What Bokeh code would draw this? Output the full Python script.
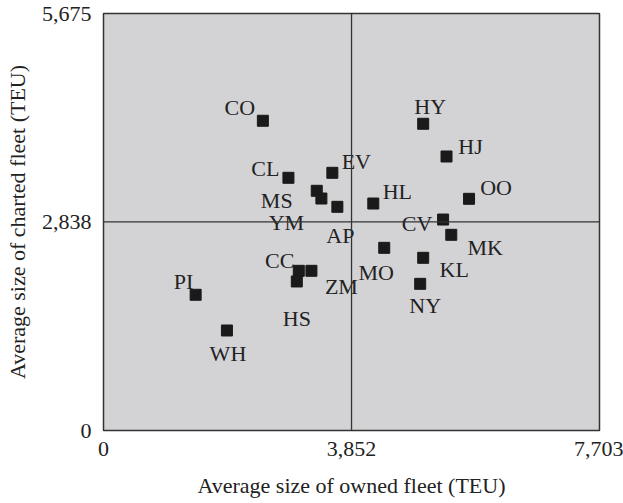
from bokeh.plotting import figure
from bokeh.models import Range1d, FixedTicker, NumeralTickFormatter, Span, ColumnDataSource
from bokeh.core.properties import value
from bokeh.embed import file_html
from bokeh.resources import INLINE

# ---- data ----
labels = ["CO", "CL", "MS", "YM", "EV", "AP", "HL", "HY", "HJ", "OO",
          "CV", "MK", "MO", "KL", "NY", "CC", "ZM", "HS", "PI", "WH"]
owned = [2475, 2872, 3312, 3384, 3554, 3632, 4190, 4965, 5327, 5677,
         5274, 5401, 4360, 4965, 4918, 3033, 3229, 3002, 1431, 1917]
charted = [4215, 3439, 3262, 3157, 3507, 3044, 3089, 4174, 3729, 3153,
           2871, 2663, 2486, 2350, 1996, 2173, 2173, 2028, 1847, 1361]
x_ticks = [0, 3852, 7703]
y_ticks = [0, 2838, 5675]
x_mid = 3852
y_mid = 2838
x_title = "Average size of owned fleet (TEU)"
y_title = "Average size of charted fleet (TEU)"

# ---- label placement (screen pixel offsets from marker centre) ----
label_offsets = {
    "CO": (-23, -13), "CL": (-23, -9), "MS": (-40, 10), "YM": (-35, 24),
    "EV": (24, -11), "AP": (3, 29), "HL": (24, -12), "HY": (7, -17),
    "HJ": (24, -10), "OO": (27, -11), "CV": (-26, 4), "MK": (34, 13),
    "MO": (-8, 25), "KL": (31, 12), "NY": (5, 22), "CC": (-19, -10),
    "ZM": (30, 16), "HS": (0, 37), "PI": (-12, -13), "WH": (1, 23),
}

FONT = "Liberation Serif"
TXT = "#222222"

src = ColumnDataSource(dict(
    x=owned, y=charted, label=labels,
    dx=[label_offsets[l][0] for l in labels],
    dy=[label_offsets[l][1] for l in labels],
))

p = figure(frame_width=496, frame_height=417,
           x_range=Range1d(0, x_ticks[-1]), y_range=Range1d(0, y_ticks[-1]),
           output_backend="svg", toolbar_location=None,
           min_border_left=103, min_border_right=24,
           min_border_top=13, min_border_bottom=73)

p.background_fill_color = "#d3d3d5"
p.border_fill_color = "white"
p.outline_line_color = "#333333"
p.outline_line_width = 1.5
p.grid.visible = False

p.add_layout(Span(location=x_mid, dimension="height", line_color="#333333", line_width=1.3))
p.add_layout(Span(location=y_mid, dimension="width", line_color="#333333", line_width=1.3))

p.scatter("x", "y", source=src, marker="square", size=11,
          fill_color="#1a1a1a", line_color="#1a1a1a")

p.text("x", "y", text="label", source=src, x_offset="dx", y_offset="dy",
       text_align="center", text_baseline="middle",
       text_font=value(FONT), text_font_size="22px", text_color=TXT)

p.xaxis.ticker = FixedTicker(ticks=x_ticks)
p.yaxis.ticker = FixedTicker(ticks=y_ticks)
p.xaxis.formatter = NumeralTickFormatter(format="0,0")
p.yaxis.formatter = NumeralTickFormatter(format="0,0")
for ax in (p.xaxis, p.yaxis):
    ax.axis_line_color = None
    ax.major_tick_line_color = None
    ax.minor_tick_line_color = None
    ax.major_label_text_font = FONT
    ax.major_label_text_font_size = "22px"
    ax.major_label_text_color = TXT
    ax.axis_label_text_font = FONT
    ax.axis_label_text_font_size = "22px"
    ax.axis_label_text_font_style = "normal"
    ax.axis_label_text_color = TXT
p.xaxis.axis_label = x_title
p.yaxis.axis_label = y_title
p.xaxis.major_label_standoff = 5
p.yaxis.major_label_standoff = 6
p.xaxis.axis_label_standoff = 14
p.yaxis.axis_label_standoff = 9

open("out.html", "w").write(file_html(p, INLINE))
